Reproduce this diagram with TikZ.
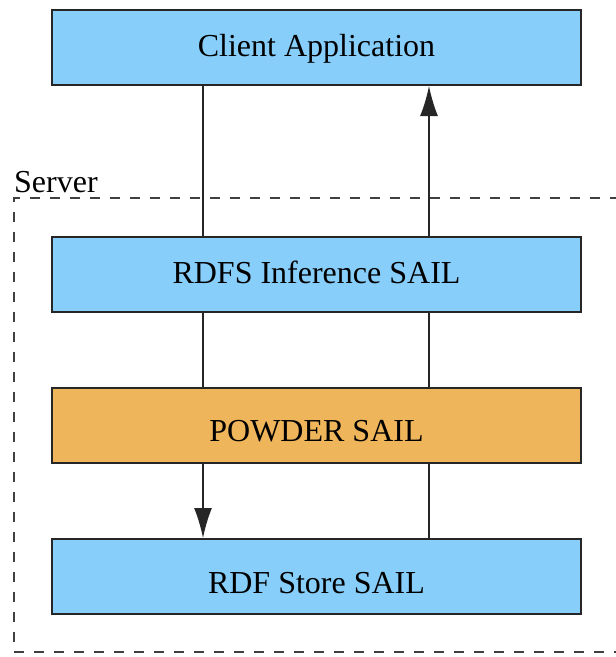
\documentclass[tikz,border=0pt]{standalone}
\usepackage{fontspec}
\setmainfont{Liberation Serif}
\usetikzlibrary{arrows.meta}
\definecolor{sailblue}{HTML}{87CEFA}
\definecolor{sailorange}{HTML}{EEB55A}
\tikzset{
  sailbox/.style={draw=black!85, line width=2pt, minimum width=529pt, minimum height=75pt,
    inner sep=0pt, text height=21pt, text depth=0pt, font=\fontsize{32}{38}\selectfont},
  link/.style={draw=black!85, line width=1.4pt},
  linkarrow/.style={link, -{Latex[length=30pt,width=18pt]}},
  frame/.style={draw=black!75, line width=1.4pt, dash pattern=on 10pt off 10pt}
}
\begin{document}
\begin{tikzpicture}[x=1pt,y=-1pt]
  \useasboundingbox (0,0) rectangle (616,657);
  % server boundary, open to the right
  \draw[frame] (640,198) -- (14,198) -- (14,652) -- (640,652);
  \node[anchor=south west, inner sep=0pt, font=\fontsize{32}{38}\selectfont] (server) at (14,193) {Server};
  % layers
  \node[sailbox, fill=sailblue, anchor=north west] (client) at (51,9) {\raisebox{1.5pt}{Client Application}};
  \node[sailbox, fill=sailblue, anchor=north west] (rdfs) at (51,236) {\raisebox{2pt}{RDFS Inference SAIL}};
  \node[sailbox, fill=sailorange, anchor=north west] (powder) at (51,387) {\raisebox{-5pt}{POWDER SAIL}};
  \node[sailbox, fill=sailblue, anchor=north west] (store) at (51,538) {\raisebox{-6.5pt}{RDF Store SAIL}};
  % downward path (left)
  \draw[link] (client.south west) ++(152,0) coordinate (d1) -- (d1 |- rdfs.north);
  \draw[link] (rdfs.south west) ++(152,0) coordinate (d2) -- (d2 |- powder.north);
  \draw[linkarrow] (powder.south west) ++(152,0) coordinate (d3) -- (d3 |- store.north);
  % upward path (right)
  \draw[link] (store.north west) ++(378,0) coordinate (u1) -- (u1 |- powder.south);
  \draw[link] (powder.north west) ++(378,0) coordinate (u2) -- (u2 |- rdfs.south);
  \draw[linkarrow] (rdfs.north west) ++(378,0) coordinate (u3) -- (u3 |- client.south);
\end{tikzpicture}
\end{document}
